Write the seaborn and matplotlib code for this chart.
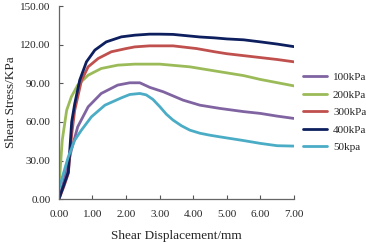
import numpy as np
import pandas as pd
import matplotlib
matplotlib.use("Agg")
import matplotlib.pyplot as plt
import seaborn as sns
from matplotlib.ticker import FormatStrFormatter

series_names = ["100kPa", "200kPa", "300kPa", "400kPa", "50kpa"]
colors = ["#8064A2", "#9BBB59", "#C0504D", "#0D1F5E", "#4BACC6"]

x_100 = [0, 0.18, 0.37, 0.56, 0.87, 1.26, 1.75, 2.11, 2.41, 2.71, 3.11, 3.7, 4.2, 4.79, 5.5, 6.0, 6.5, 7.0]
y_100 = [0, 17.3, 38, 56.2, 71.7, 82.1, 88.6, 90.4, 90.4, 86.8, 83.4, 76.9, 73, 70.5, 68, 66.6, 64.5, 62.7]

x_200 = [0, 0.03, 0.1, 0.23, 0.37, 0.56, 0.87, 1.26, 1.75, 2.26, 3.0, 3.9, 4.79, 5.5, 6.0, 6.5, 7.0]
y_200 = [12, 20, 46, 69, 79.5, 88.6, 96.3, 101.5, 104.1, 104.9, 104.9, 102.8, 99, 96, 93, 90.5, 88]

x_300 = [0, 0.15, 0.28, 0.38, 0.47, 0.67, 0.87, 1.17, 1.56, 2.0, 2.26, 2.7, 3.4, 4.1, 4.64, 5.0, 5.5, 6.0, 6.5, 7.0]
y_300 = [0, 10, 20, 50, 69, 92, 102.8, 109.3, 114.5, 117, 118.3, 119.1, 119.1, 117, 114.5, 113, 111.5, 110, 108.5, 106.7]

x_400 = [0, 0.28, 0.38, 0.47, 0.62, 0.82, 1.07, 1.41, 1.86, 2.26, 2.7, 3.0, 3.4, 3.8, 4.2, 4.64, 5.0, 5.5, 6.0, 6.5, 7.0]
y_400 = [0, 21, 60, 74, 92.5, 106.7, 115.8, 122.2, 126.1, 127.4, 128.2, 128.2, 128.0, 127.0, 126.0, 125.3, 124.5, 123.8, 122.2, 120.5, 118.5]

x_50 = [0, 0.28, 0.47, 0.67, 0.97, 1.37, 1.86, 2.11, 2.41, 2.6, 2.8, 3.01, 3.2, 3.4, 3.65, 3.9, 4.2, 4.49, 4.79, 5.5, 6.0, 6.5, 7.0]
y_50 = [8, 32.9, 45.8, 53.6, 64, 73, 78.7, 81.3, 82.1, 81.0, 77.5, 71.7, 66.0, 61.4, 57.0, 53.6, 51.2, 49.7, 48.4, 45.5, 43.3, 41.5, 41.2]

x_ticks = [0, 1, 2, 3, 4, 5, 6, 7]
y_ticks = [0, 30, 60, 90, 120, 150]

xs = [x_100, x_200, x_300, x_400, x_50]
ys = [y_100, y_200, y_300, y_400, y_50]
frames = []
for name, xv, yv in zip(series_names, xs, ys):
    frames.append(pd.DataFrame({"x": xv, "y": yv, "series": name}))
df = pd.concat(frames, ignore_index=True)

sns.set_style("white")
plt.rcParams["font.family"] = ["Liberation Serif", "DejaVu Serif"]

fig = plt.figure(figsize=(3.66, 2.44), dpi=100)
ax = fig.add_axes([0.161, 0.184, 0.642, 0.791])

sns.lineplot(data=df, x="x", y="y", hue="series", hue_order=series_names,
             palette=colors, sort=False, estimator=None, units="series",
             linewidth=2.0, ax=ax)

ax.set_xlim(0, 7)
ax.set_ylim(0, 150)
ax.set_xticks(x_ticks)
ax.set_yticks(y_ticks)
ax.xaxis.set_major_formatter(FormatStrFormatter("%.2f"))
ax.yaxis.set_major_formatter(FormatStrFormatter("%.2f"))
ax.tick_params(axis="both", direction="in", length=3, width=0.8, color="#555555",
               labelsize=8, left=True, bottom=True)
ax.tick_params(axis="x", pad=8)
ax.tick_params(axis="y", pad=6)
for side in ["top", "right"]:
    ax.spines[side].set_visible(False)
for side in ["left", "bottom"]:
    ax.spines[side].set_color("#666666")
    ax.spines[side].set_linewidth(0.9)

ax.set_xlabel("Shear Displacement/mm", fontsize=9.5, labelpad=8)
ax.set_ylabel("Shear Stress/KPa", fontsize=9.5, labelpad=2)

leg = ax.legend(loc="upper left", bbox_to_anchor=(1.02, 0.68), frameon=False,
                fontsize=8, handlelength=2.2, handletextpad=0.5, labelspacing=0.7,
                borderaxespad=0)
for line in leg.get_lines():
    line.set_linewidth(2.0)

fig.savefig("out.png", dpi=100)
